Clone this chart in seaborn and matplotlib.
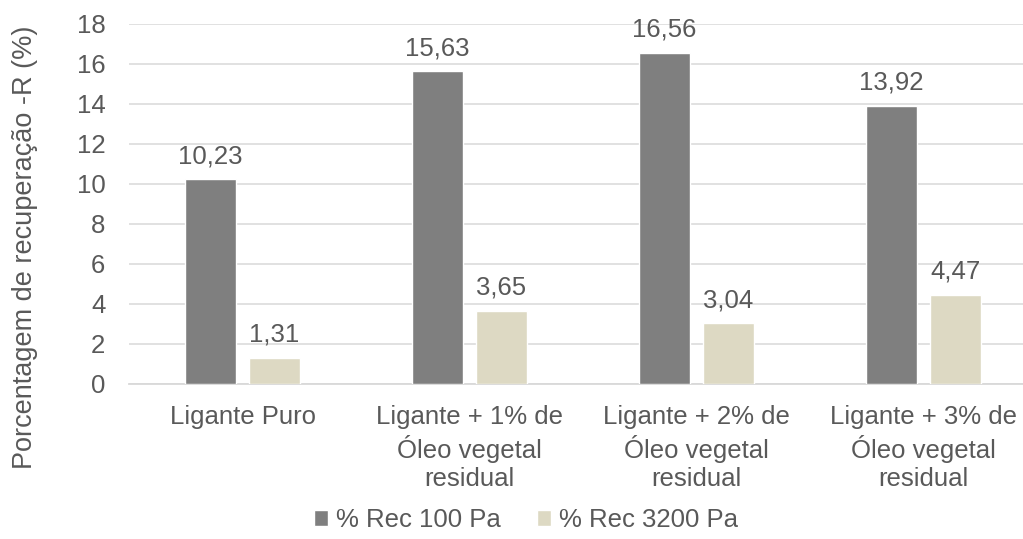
import pandas as pd
import seaborn as sns
import matplotlib.pyplot as plt

# dados
categorias = ["Ligante Puro",
              "Ligante + 1% de\nÓleo vegetal\nresidual",
              "Ligante + 2% de\nÓleo vegetal\nresidual",
              "Ligante + 3% de\nÓleo vegetal\nresidual"]
rec_100 = [10.23, 15.63, 16.56, 13.92]
rec_3200 = [1.31, 3.65, 3.04, 4.47]
series = ["% Rec 100 Pa", "% Rec 3200 Pa"]
cores = ["#7f7f7f", "#ddd9c3"]

tabela = pd.DataFrame({
    "categoria": categorias * 2,
    "serie": [series[0]] * 4 + [series[1]] * 4,
    "valor": rec_100 + rec_3200,
})

sns.set_style("white")
plt.rcParams["font.family"] = ["Liberation Sans", "DejaVu Sans"]
cor_texto = "#595959"

fig = plt.figure(figsize=(10.23, 5.39), dpi=100)
ax = fig.add_axes([0.1261, 0.2876, 0.8876, 0.668])

sns.barplot(data=tabela, x="categoria", y="valor", hue="serie", hue_order=series,
            order=categorias, palette=cores, width=0.564, gap=0.2, saturation=1,
            errorbar=None, ax=ax, zorder=3)

# rótulos de valor com vírgula decimal
for cont in ax.containers:
    ax.bar_label(cont, labels=[f"{b.get_height():.2f}".replace(".", ",") for b in cont],
                 padding=8, fontsize=18.5, color=cor_texto)

ax.set_ylim(0, 18)
ax.set_xlim(-0.5, 3.5)
ax.set_yticks(range(0, 19, 2))
ax.grid(axis="y", color="#d9d9d9", linewidth=1.1, zorder=0)
ax.set_axisbelow(True)
for s in ["top", "right", "left"]:
    ax.spines[s].set_visible(False)
ax.spines["bottom"].set_color("#d9d9d9")
ax.spines["bottom"].set_linewidth(1.3)

ax.tick_params(axis="both", length=0, labelsize=18.5, labelcolor=cor_texto)
ax.tick_params(axis="y", pad=17)
ax.tick_params(axis="x", pad=15)
for t in ax.get_xticklabels():
    t.set_linespacing(1.25)

ax.set_xlabel("")
ax.set_ylabel("Porcentagem de recuperação -R (%)", fontsize=19.5, color=cor_texto)
ax.yaxis.set_label_coords(-0.100, 0.38)

handles, labels = ax.get_legend_handles_labels()
ax.legend_.remove()
fig.legend(handles, labels, loc="center", bbox_to_anchor=(526 / 1023, 1 - 520 / 539),
           ncol=2, frameon=False, fontsize=18.5, labelcolor=cor_texto,
           handlelength=0.55, handleheight=0.55, handletextpad=0.3, columnspacing=1.4)

fig.savefig("out.png", dpi=100)
